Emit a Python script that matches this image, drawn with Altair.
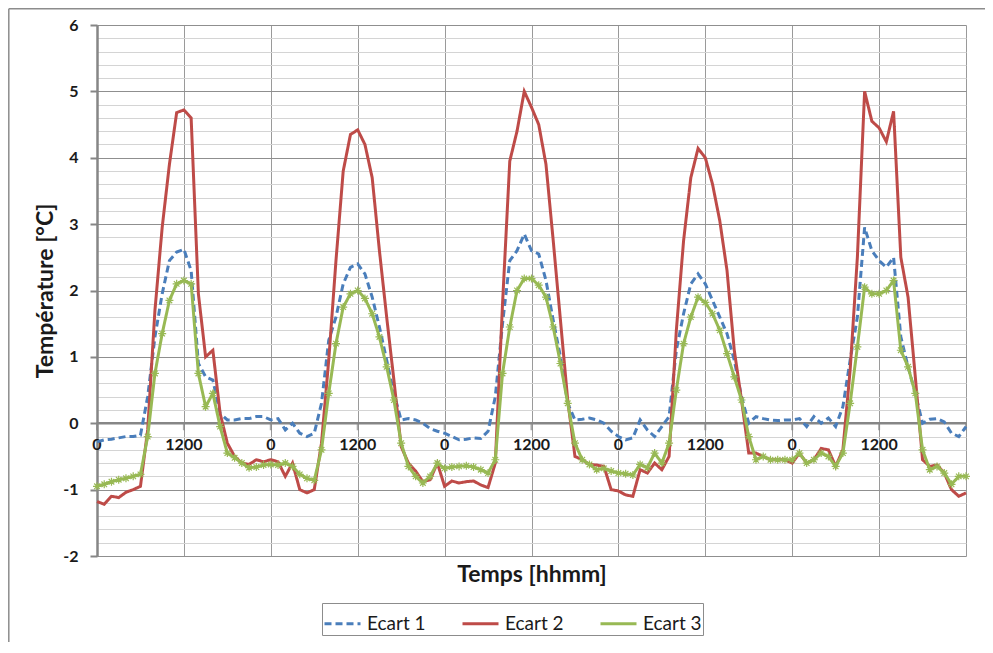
import altair as alt
import pandas as pd

# ---- data (hourly samples over 5 days) ----
hours = list(range(121))

ecart1 = [
    -0.28, -0.25, -0.24, -0.22, -0.20, -0.20, -0.18, 0.40, 1.30, 1.95, 2.45, 2.58,
    2.62, 2.30, 0.90, 0.70, 0.65, 0.15, 0.05, 0.05, 0.07, 0.07, 0.10, 0.10,
    0.05, 0.07, -0.10, 0.00, -0.15, -0.20, -0.15, 0.30, 1.25, 1.60, 2.10, 2.35,
    2.40, 2.25, 1.90, 1.45, 0.95, 0.45, 0.05, 0.07, 0.05, 0.00, -0.08, -0.12,
    -0.15, -0.20, -0.25, -0.24, -0.22, -0.23, -0.12, 0.40, 1.50, 2.45, 2.60, 2.85,
    2.60, 2.55, 2.15, 1.55, 1.00, 0.30, 0.05, 0.06, 0.08, 0.05, 0.00, -0.12,
    -0.20, -0.25, -0.22, 0.05, -0.10, -0.20, -0.05, 0.10, 1.10, 1.65, 2.10, 2.25,
    2.10, 1.85, 1.60, 1.35, 0.95, 0.40, 0.00, 0.10, 0.07, 0.05, 0.04, 0.05,
    0.05, 0.07, -0.05, 0.10, 0.00, 0.08, -0.05, 0.25, 0.95, 1.60, 2.95, 2.60,
    2.45, 2.35, 2.50, 1.30, 0.85, 0.45, 0.00, 0.06, 0.07, 0.02, -0.15, -0.20,
    -0.05,
]

ecart2 = [
    -1.18, -1.22, -1.10, -1.12, -1.04, -1.00, -0.95, -0.10, 1.70, 2.95, 3.90, 4.68,
    4.72, 4.60, 1.95, 1.00, 1.10, 0.15, -0.30, -0.50, -0.60, -0.62, -0.55, -0.58,
    -0.55, -0.58, -0.80, -0.60, -1.00, -1.05, -1.00, -0.30, 0.95, 2.45, 3.80, 4.35,
    4.42, 4.20, 3.70, 2.60, 1.60, 0.65, -0.35, -0.60, -0.72, -0.88, -0.85, -0.60,
    -0.95, -0.87, -0.90, -0.88, -0.87, -0.93, -0.97, -0.60, 1.80, 3.95, 4.40, 5.00,
    4.76, 4.50, 3.90, 2.75, 1.55, 0.35, -0.50, -0.55, -0.62, -0.63, -0.65, -1.00,
    -1.02, -1.08, -1.10, -0.70, -0.75, -0.60, -0.70, -0.50, 1.40, 2.75, 3.70, 4.14,
    4.00, 3.60, 3.05, 2.30, 1.10, 0.35, -0.45, -0.45, -0.50, -0.55, -0.55, -0.55,
    -0.60, -0.45, -0.60, -0.55, -0.38, -0.40, -0.65, -0.40, 0.80, 2.50, 5.00, 4.55,
    4.45, 4.24, 4.70, 2.50, 1.90, 0.70, -0.55, -0.65, -0.63, -0.75, -1.00, -1.10,
    -1.05,
]

ecart3 = [
    -0.95, -0.92, -0.88, -0.85, -0.83, -0.80, -0.77, -0.20, 0.75, 1.35, 1.85, 2.10,
    2.15, 2.10, 0.75, 0.25, 0.45, -0.05, -0.45, -0.52, -0.60, -0.67, -0.66, -0.63,
    -0.62, -0.63, -0.60, -0.65, -0.77, -0.83, -0.86, -0.40, 0.45, 1.20, 1.75, 1.95,
    2.00, 1.88, 1.65, 1.30, 0.85, 0.35, -0.30, -0.65, -0.80, -0.90, -0.80, -0.60,
    -0.68, -0.66, -0.65, -0.64, -0.66, -0.70, -0.75, -0.55, 0.75, 1.45, 2.00, 2.18,
    2.18, 2.08, 1.90, 1.45, 0.90, 0.30, -0.30, -0.55, -0.62, -0.70, -0.68, -0.72,
    -0.75, -0.76, -0.78, -0.62, -0.67, -0.45, -0.60, -0.30, 0.50, 1.20, 1.60, 1.90,
    1.82, 1.65, 1.40, 1.05, 0.70, 0.35, -0.20, -0.55, -0.50, -0.55, -0.55, -0.55,
    -0.55, -0.45, -0.60, -0.55, -0.45, -0.50, -0.65, -0.45, 0.30, 1.15, 2.05, 1.95,
    1.95, 2.00, 2.15, 1.10, 0.85, 0.45, -0.40, -0.70, -0.65, -0.75, -0.92, -0.80,
    -0.80,
]

series_names = ["Ecart 1", "Ecart 2", "Ecart 3"]
series_colors = ["#4A7EBB", "#BE4B48", "#98B954"]

y_ticks = [-2, -1.8, -1.6, -1.4, -1.2, -1, -0.8, -0.6, -0.4, -0.2,
           0, 0.2, 0.4, 0.6, 0.8, 1, 1.2, 1.4, 1.6, 1.8,
           2, 2.2, 2.4, 2.6, 2.8, 3, 3.2, 3.4, 3.6, 3.8,
           4, 4.2, 4.4, 4.6, 4.8, 5, 5.2, 5.4, 5.6, 5.8, 6]
x_ticks = [0, 12, 24, 36, 48, 60, 72, 84, 96, 108, 120]
x_label_pos = [0, 12, 24, 36, 48, 60, 72, 84, 96, 108]
x_labels = ["0", "1200", "0", "1200", "0", "1200", "0", "1200", "0", "1200"]

assert len(ecart1) == len(ecart2) == len(ecart3) == len(hours)

rows = []
for name, vals in zip(series_names, [ecart1, ecart2, ecart3]):
    for h, v in zip(hours, vals):
        rows.append({"hour": h, "value": v, "series": name})
df = pd.DataFrame(rows)

FONT = "Lato"
GRAY = "#868686"
TXT = "#1a1a1a"
W, H = 869, 531

x_scale = alt.Scale(domain=[0, 120], nice=False, zero=False)
y_scale = alt.Scale(domain=[-2, 6], nice=False, zero=False)

is_int = "abs(datum.value - round(datum.value)) < 0.01"

x_axis = alt.Axis(values=x_ticks, grid=True, gridColor="#9a9a9a", gridWidth=1,
                  labels=False, ticks=False, domain=False,
                  title="Temps [hhmm]", titleFont=FONT, titleFontSize=23,
                  titleFontWeight="bold", titleColor=TXT, titlePadding=7)
y_axis = alt.Axis(values=y_ticks, grid=True,
                  gridColor={"condition": {"test": is_int, "value": "#8f8f8f"}, "value": "#d4d4d4"},
                  gridWidth=1,
                  tickColor={"condition": {"test": is_int, "value": GRAY}, "value": "rgba(0,0,0,0)"},
                  tickSize=7, tickWidth=2,
                  domainColor=GRAY, domainWidth=2.5,
                  labelExpr=f"{is_int} ? '' + round(datum.value) : ''",
                  labelOverlap=False, labelFlush=False,
                  labelFont=FONT, labelFontSize=16, labelFontWeight="bold",
                  labelColor=TXT, labelPadding=12,
                  title="Température [°C]", titleFont=FONT, titleFontSize=23,
                  titleFontWeight="bold", titleColor=TXT,
                  titleAngle=270, titleX=-52, titleY=H / 2,
                  titleAlign="center", titleBaseline="middle")


def X(field):
    return alt.X(f"{field}:Q", scale=x_scale, axis=x_axis)


def Y(field):
    return alt.Y(f"{field}:Q", scale=y_scale, axis=y_axis)


legend = alt.Legend(title=None, orient="none", legendX=225, legendY=578,
                    direction="horizontal", columns=3,
                    symbolType="stroke", symbolSize=1296, symbolStrokeWidth=3,
                    labelFont=FONT, labelFontSize=19, labelColor=TXT,
                    labelOffset=5, columnPadding=30, padding=1,
                    strokeColor="#8c8c8c", fillColor="white")

color_enc = alt.Color("series:N", scale=alt.Scale(domain=series_names, range=series_colors),
                      legend=legend)
dash_enc = alt.StrokeDash("series:N",
                          scale=alt.Scale(domain=series_names, range=[[7, 4], [1, 0], [1, 0]]),
                          legend=legend)

one = pd.DataFrame({"k": [0]})
frame_left = alt.Chart(one).mark_rule(color="#8c8c8c", strokeWidth=1.5).encode(
    x=alt.value(-88.2), y=alt.value(-16.2), y2=alt.value(700))
frame_top = alt.Chart(one).mark_rule(color="#8c8c8c", strokeWidth=1.5).encode(
    x=alt.value(-88.2), x2=alt.value(1000), y=alt.value(-16.2))

zero_df = pd.DataFrame({"zero": [0]})
zero_rule = alt.Chart(zero_df).mark_rule(color=GRAY, strokeWidth=2.5).encode(
    y=Y("zero")
)

tick_df = pd.DataFrame({"tick": x_ticks, "zero": [0] * len(x_ticks)})
tick_marks = alt.Chart(tick_df).mark_tick(orient="vertical", color=GRAY, size=8,
                                          thickness=2, yOffset=3).encode(
    x=X("tick"), y=Y("zero"),
)

lab_df = pd.DataFrame({"pos": x_label_pos, "lab": x_labels, "zero": [0] * len(x_labels)})
tick_labels = alt.Chart(lab_df).mark_text(font=FONT, fontSize=16, fontWeight="bold",
                                          color=TXT, dy=22, baseline="middle",
                                          align="center").encode(
    x=X("pos"), y=Y("zero"), text="lab:N",
)

base = alt.Chart(df).encode(
    x=X("hour"), y=Y("value"),
    color=color_enc,
    strokeDash=dash_enc,
)

lines = [
    base.transform_filter(alt.datum.series == name).mark_line(strokeWidth=3)
    for name in series_names
]

ASTERISK = "M-1,0L1,0M0,-1L0,1M-0.7,-0.7L0.7,0.7M-0.7,0.7L0.7,-0.7"
markers = alt.Chart(df).transform_filter(alt.datum.series == "Ecart 3").mark_point(
    shape=ASTERISK, size=64, filled=False, strokeWidth=1.2, opacity=1, color="#98B954"
).encode(x=X("hour"), y=Y("value"))

chart = alt.layer(frame_left, frame_top, zero_rule, tick_marks, tick_labels, *lines,
                  markers).properties(
    width=W, height=H,
    padding={"left": 89, "top": 17, "right": 19, "bottom": 86},
    autosize=alt.AutoSizeParams(type="none"),
).configure(font=FONT).configure_view(stroke=None)

chart.save("out.html", embed_options={"renderer": "svg", "actions": False})
